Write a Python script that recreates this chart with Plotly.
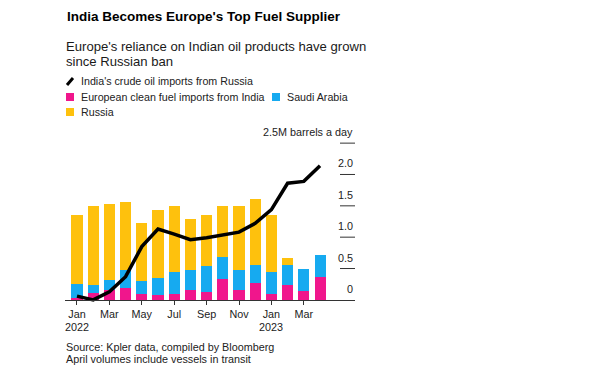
import plotly.graph_objects as go

# ---------------- data ----------------
months = list(range(16))  # Jan 2022 .. Apr 2023
tick_pos = [0, 2, 4, 6, 8, 10, 12, 14]
tick_text = ["Jan", "Mar", "May", "Jul", "Sep", "Nov", "Jan", "Mar"]
year_pos = [0, 12]
year_text = ["2022", "2023"]

india_clean = [0.03, 0.11, 0.15, 0.19, 0.09, 0.08, 0.10, 0.16, 0.13, 0.34, 0.15, 0.27, 0.10, 0.245, 0.14, 0.36]
saudi = [0.23, 0.12, 0.16, 0.28, 0.21, 0.27, 0.35, 0.31, 0.41, 0.34, 0.33, 0.29, 0.35, 0.305, 0.35, 0.35]
russia = [1.09, 1.26, 1.22, 1.09, 0.93, 1.09, 1.04, 0.82, 0.82, 0.81, 1.01, 1.05, 0.90, 0.12, 0.0, 0.0]
india_crude_from_russia = [0.06, 0.0, 0.13, 0.37, 0.85, 1.13, 1.05, 0.96, 0.99, 1.04, 1.08, 1.22, 1.44, 1.86, 1.89, 2.14]

y_ticks = [0, 0.5, 1.0, 1.5, 2.0, 2.5]
y_tick_text = ["0", "0.5", "1.0", "1.5", "2.0", "2.5M barrels a day"]

series_names = ["India's crude oil imports from Russia",
                "European clean fuel imports from India",
                "Saudi Arabia", "Russia"]

PINK = "#F0168C"
BLUE = "#16AAF0"
YELLOW = "#FEC10D"
LINE = "#000000"
FONT = "Liberation Sans"

# ---------------- layout geometry ----------------
W, H = 597, 383
L, R, T, B = 65, 355, 140, 303
Y_MIN, Y_MAX = -0.05, 2.55


def px_x(x):
    return (x - L) / (R - L)


def px_y(y):
    return (B - y) / (B - T)


fig = go.Figure()
fig.add_trace(go.Bar(x=months, y=india_clean, marker_color=PINK, width=0.68,
                     name=series_names[1], marker_line_width=0))
fig.add_trace(go.Bar(x=months, y=saudi, marker_color=BLUE, width=0.68,
                     name=series_names[2], marker_line_width=0))
fig.add_trace(go.Bar(x=months, y=russia, marker_color=YELLOW, width=0.68,
                     name=series_names[3], marker_line_width=0))
fig.add_trace(go.Scatter(x=months, y=india_crude_from_russia, mode="lines",
                         line=dict(color=LINE, width=3.5), name=series_names[0]))

annotations = []
shapes = []

# title / subtitle
annotations.append(dict(text="<b>India Becomes Europe's Top Fuel Supplier</b>", x=px_x(65), y=px_y(17),
                        xref="paper", yref="paper", xanchor="left", yanchor="middle", showarrow=False,
                        font=dict(family=FONT, size=13.5, color="#000000")))
annotations.append(dict(text="Europe's reliance on Indian oil products have grown", x=px_x(64), y=px_y(46.5),
                        xref="paper", yref="paper", xanchor="left", yanchor="middle", showarrow=False,
                        font=dict(family=FONT, size=13.1, color="#1a1a1a")))
annotations.append(dict(text="since Russian ban", x=px_x(64), y=px_y(61.5),
                        xref="paper", yref="paper", xanchor="left", yanchor="middle", showarrow=False,
                        font=dict(family=FONT, size=13.1, color="#1a1a1a")))

# legend
leg_font = dict(family=FONT, size=10.7, color="#222222")
shapes.append(dict(type="line", xref="paper", yref="paper", x0=px_x(67), y0=px_y(85), x1=px_x(73), y1=px_y(78),
                   line=dict(color=LINE, width=3)))
annotations.append(dict(text=series_names[0], x=px_x(79), y=px_y(81), xref="paper", yref="paper",
                        xanchor="left", yanchor="middle", showarrow=False, font=leg_font))
for (sx, sy, col, name) in [(66, 97, PINK, series_names[1]), (272, 97, BLUE, series_names[2]),
                            (66, 112, YELLOW, series_names[3])]:
    shapes.append(dict(type="rect", xref="paper", yref="paper", x0=px_x(sx), x1=px_x(sx + 8),
                       y0=px_y(sy - 4), y1=px_y(sy + 4), fillcolor=col, line=dict(width=0)))
    annotations.append(dict(text=name, x=px_x(sx + 13), y=px_y(sy), xref="paper", yref="paper",
                            xanchor="left", yanchor="middle", showarrow=False, font=leg_font))

# right-hand value labels with short rules
for v, t in zip(y_ticks, y_tick_text):
    if v > 0:
        shapes.append(dict(type="line", xref="paper", yref="y", x0=px_x(340), x1=1, y0=v, y1=v,
                           line=dict(color="#333333", width=1)))
    annotations.append(dict(text=t, x=1, y=v, xref="paper", yref="y", xanchor="right", yanchor="middle",
                            yshift=11, showarrow=False, font=dict(family=FONT, size=10.8, color="#222222")))

# year labels under the January ticks
for xp, yt in zip(year_pos, year_text):
    annotations.append(dict(text=yt, x=xp, y=px_y(326), xref="x", yref="paper", xanchor="center",
                            yanchor="middle", height=11, showarrow=False,
                            font=dict(family=FONT, size=10.8, color="#222222")))

# source
for txt, yy in [("Source: Kpler data, compiled by Bloomberg", 347), ("April volumes include vessels in transit", 359)]:
    annotations.append(dict(text=txt, x=px_x(64), y=px_y(yy), xref="paper", yref="paper",
                            xanchor="left", yanchor="middle", showarrow=False,
                            font=dict(family=FONT, size=10.8, color="#222222")))

fig.update_layout(
    width=W, height=H,
    margin=dict(l=L, r=W - R, t=T, b=H - B, pad=0),
    barmode="stack",
    showlegend=False,
    hovermode=False,
    plot_bgcolor="white", paper_bgcolor="white",
    annotations=annotations, shapes=shapes,
    xaxis=dict(range=[-0.74, 17.16], tickvals=tick_pos, ticktext=tick_text, showgrid=False, zeroline=False,
               showline=True, linecolor="#333333", linewidth=1, ticks="outside", ticklen=4,
               tickcolor="#333333", anchor="free", position=(0 - Y_MIN) / (Y_MAX - Y_MIN),
               tickfont=dict(family=FONT, size=10.8, color="#222222")),
    yaxis=dict(range=[Y_MIN, Y_MAX], visible=False, showgrid=False, zeroline=False),
)

fig.write_html("out.html", config={"displayModeBar": False, "staticPlot": True},
               post_script="document.body.style.margin='0';document.body.style.overflow='hidden';")
